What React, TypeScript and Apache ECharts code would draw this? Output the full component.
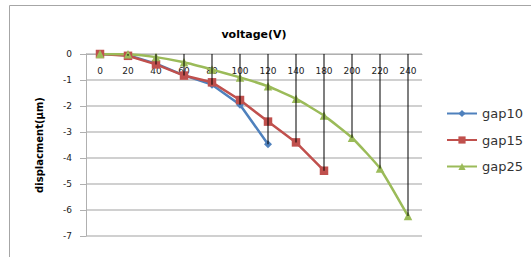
import { useEffect, useRef } from "react";
import * as echarts from "echarts";

const categories = ["0", "20", "40", "60", "80", "100", "120", "140", "180", "200", "220", "240"];
const gap10 = [0, -0.05, -0.37, -0.82, -1.18, -1.95, -3.47];
const gap15 = [0, -0.07, -0.4, -0.83, -1.09, -1.77, -2.6, -3.4, -4.49];
const gap25 = [0, -0.01, -0.12, -0.32, -0.6, -0.9, -1.24, -1.72, -2.37, -3.22, -4.4, -6.23];
const seriesNames = ["gap10", "gap15", "gap25"];
const colors = ["#4F81BD", "#C0504D", "#9BBB59"];

export default function App() {
  const ref = useRef<HTMLDivElement>(null);
  useEffect(() => {
    if (!ref.current) return;
    const chart = echarts.init(ref.current, null, { renderer: "svg" });
    const all = [gap10, gap15, gap25];
    const dropLines = categories.map((_, i) => {
      const vals = all.map((s) => s[i]).filter((v) => v !== undefined) as number[];
      return Math.min(...vals);
    });
    const font = "DejaVu Sans";
    chart.setOption({
      animation: false,
      backgroundColor: "#fff",
      textStyle: { fontFamily: font },
      graphic: [
        {
          type: "rect",
          left: 7,
          top: 3,
          shape: { width: 600, height: 300 },
          style: { fill: "none", stroke: "#a6a6a6", lineWidth: 1 },
          silent: true,
        },
      ],
      grid: { left: 86, right: 109, top: 54, bottom: 21, containLabel: false },
      legend: {
        data: seriesNames,
        orient: "vertical",
        left: 441,
        top: 102,
        itemWidth: 30,
        itemHeight: 9,
        itemGap: 13.5,
        textStyle: { fontFamily: font, fontSize: 13, color: "#333" },
      },
      xAxis: {
        type: "category",
        position: "top",
        data: categories,
        boundaryGap: true,
        name: "voltage(V)",
        nameLocation: "middle",
        nameGap: 14,
        nameTextStyle: { fontFamily: font, fontSize: 11, fontWeight: "bold", color: "#000" },
        axisLine: { show: true, lineStyle: { color: "#b0b0b0", width: 1 } },
        axisTick: { show: false },
        axisLabel: { inside: true, margin: 12, fontSize: 9, color: "#222", fontFamily: font, interval: 0 },
        splitLine: { show: false },
      },
      yAxis: {
        type: "value",
        min: -7,
        max: 0,
        interval: 1,
        name: "displacment(μm)",
        nameLocation: "middle",
        nameRotate: 90,
        nameGap: 42,
        nameTextStyle: { fontFamily: font, fontSize: 10, fontWeight: "bold", color: "#000" },
        axisLine: { show: true, lineStyle: { color: "#b0b0b0", width: 1 } },
        axisTick: { show: true, length: 6, lineStyle: { color: "#b0b0b0" } },
        axisLabel: { fontSize: 9, color: "#222", fontFamily: font, margin: 14 },
        splitLine: { show: true, lineStyle: { color: "#c0c0c0", width: 1.5 } },
      },
      series: [
        {
          name: "drop",
          type: "bar",
          data: dropLines,
          barWidth: 1,
          itemStyle: { color: "#000" },
          z: 3,
          silent: true,
        },
        {
          name: "gap10",
          type: "line",
          data: gap10,
          symbol: "diamond",
          symbolSize: 8,
          lineStyle: { color: colors[0], width: 2.5 },
          itemStyle: { color: colors[0] },
          z: 2,
        },
        {
          name: "gap15",
          type: "line",
          data: gap15,
          symbol: "rect",
          symbolSize: 8.5,
          lineStyle: { color: colors[1], width: 2.5 },
          itemStyle: { color: colors[1] },
          z: 2,
        },
        {
          name: "gap25",
          type: "line",
          data: gap25,
          symbol: "triangle",
          symbolSize: 8.5,
          smooth: 0.15,
          lineStyle: { color: colors[2], width: 2.5 },
          itemStyle: { color: colors[2] },
          z: 2,
        },
      ],
    });
    return () => chart.dispose();
  }, []);
  return (
    <div
      ref={ref}
      style={{ position: "absolute", left: 0, top: 0, width: 531, height: 257, background: "#fff" }}
    />
  );
}
